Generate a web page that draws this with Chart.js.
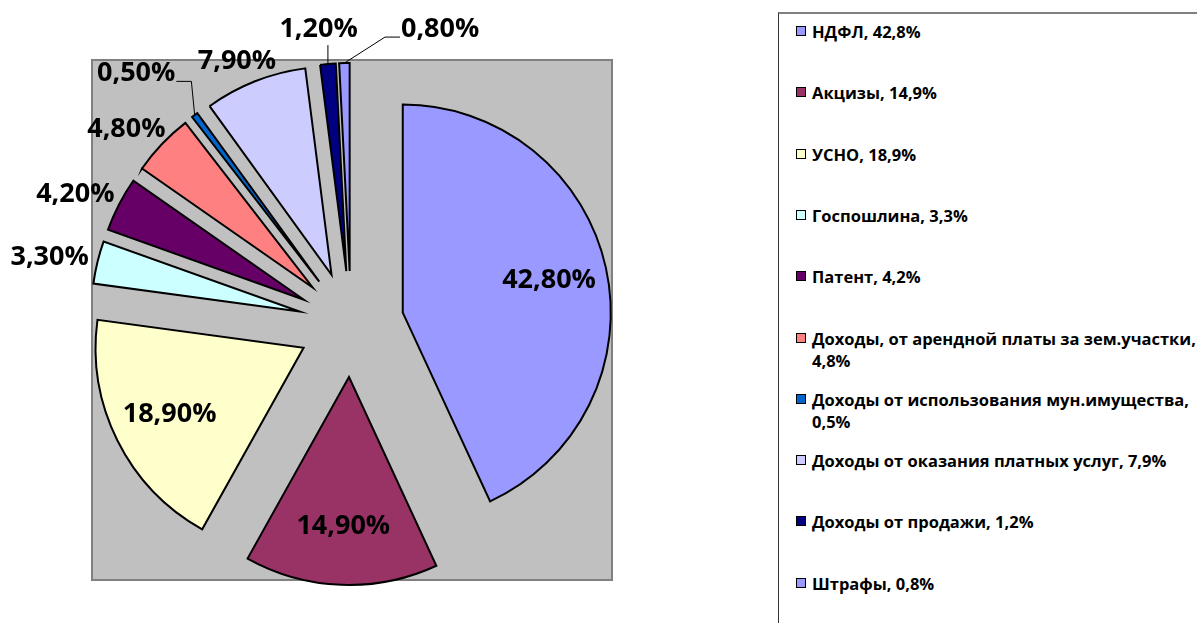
<!DOCTYPE html>
<html lang="ru">
<head>
<meta charset="utf-8">
<title>Структура доходов</title>
<script src="https://cdn.jsdelivr.net/npm/chart.js@4.4.0/dist/chart.umd.min.js"></script>
<style>
  html, body { margin: 0; padding: 0; background: #fff; }
  body { width: 1197px; height: 623px; position: relative; overflow: hidden; font-family: 'Open Sans', sans-serif; }
  #wrap { position: absolute; left: 0; top: 0; width: 702px; height: 623px; }
  #legenda { position: absolute; left: 778px; top: 12px; width: 440px; height: 630px;
             border-top: 2px solid #808080; border-left: 1px solid #333; }
  .item { position: absolute; left: 15px; width: 392px; padding-left: 18px;
          font-weight: bold; font-size: 16.5px; line-height: 22px; color: #000; }
  .item i { position: absolute; left: 2px; top: 5px; width: 8px; height: 8px; border: 1.5px solid #000; }
</style>
</head>
<body>
<div id="wrap"><canvas id="grafico"></canvas></div>
<div id="legenda"></div>
<script>
// доли доходов, %
const categories = [
  'НДФЛ',
  'Акцизы',
  'УСНО',
  'Госпошлина',
  'Патент',
  'Доходы, от арендной платы за зем.участки',
  'Доходы от использования мун.имущества',
  'Доходы от оказания платных услуг',
  'Доходы от продажи',
  'Штрафы'
];
const values = [42.8, 14.9, 18.9, 3.3, 4.2, 4.8, 0.5, 7.9, 1.2, 0.8];
const colors = ['#9999FF', '#993366', '#FFFFCC', '#CCFFFF', '#660066',
                '#FF8080', '#0066CC', '#CCCCFF', '#000080', '#9999FF'];

const explode = 53;        // вынос секторов, px
const nudge = { 6: [-29, -24], 8: [-5, -13], 9: [97, -12] }; // сдвиг подписей с выноской

const fmt = v => v.toFixed(2).replace('.', ',') + '%';

// легенда
const legenda = document.getElementById('legenda');
categories.forEach((nome, i) => {
  const div = document.createElement('div');
  div.className = 'item';
  div.style.top = (7 + i * 61.3) + 'px';
  div.innerHTML = '<i style="background:' + colors[i] + '"></i>' +
    nome + ', ' + values[i].toFixed(1).replace('.', ',') + '%';
  legenda.appendChild(div);
});

// серый фон области построения + разнесённые сектора
const setores = {
  id: 'setores',
  beforeDatasetDraw(chart, args) {
    const ctx = chart.ctx;
    const arcs = args.meta.data;
    const cx = arcs[0].x, cy = arcs[0].y;
    ctx.save();
    ctx.fillStyle = '#C0C0C0';
    ctx.strokeStyle = '#808080';
    ctx.lineWidth = 2;
    ctx.fillRect(cx - 259, cy - 264, 520, 520);
    ctx.strokeRect(cx - 259, cy - 264, 520, 520);
    ctx.restore();

    arcs.forEach(arc => {
      const mid = (arc.startAngle + arc.endAngle) / 2;
      ctx.save();
      ctx.translate(Math.cos(mid) * explode, Math.sin(mid) * explode);
      arc.draw(ctx);
      ctx.restore();
    });
    return false;
  }
};

// подписи данных
const etiquetas = {
  id: 'etiquetas',
  afterDatasetsDraw(chart) {
    const ctx = chart.ctx;
    const meta = chart.getDatasetMeta(0);
    ctx.save();
    ctx.font = 'bold 27px "Open Sans", sans-serif';
    ctx.fillStyle = '#000';
    ctx.strokeStyle = '#000';
    ctx.lineWidth = 1;
    ctx.textAlign = 'center';
    ctx.textBaseline = 'middle';
    meta.data.forEach((arc, i) => {
      const mid = (arc.startAngle + arc.endAngle) / 2;
      const dx = Math.cos(mid), dy = Math.sin(mid);
      const r = arc.outerRadius;
      const text = fmt(values[i]);
      const w = ctx.measureText(text).width, h = 24;
      let lx, ly;
      if (values[i] > 10) {
        lx = arc.x + dx * (explode + r * 0.72);
        ly = arc.y + dy * (explode + r * 0.72);
      } else {
        const d = r + explode + 10;
        lx = arc.x + dx * d + dx * w / 2;
        ly = arc.y + dy * d + dy * h / 2;
        const n = nudge[i];
        if (n) {
          lx += n[0];
          ly += n[1];
          const ox = arc.x + dx * (r + explode), oy = arc.y + dy * (r + explode);
          ctx.beginPath();
          ctx.moveTo(ox, oy);
          if (lx - w / 2 > ox) {
            ctx.lineTo(lx - w / 2 - 16, ly + 8);
            ctx.lineTo(lx - w / 2 - 1, ly + 8);
          } else if (lx + w / 2 < ox) {
            ctx.lineTo(lx + w / 2 + 16, ly + 8);
            ctx.lineTo(lx + w / 2 + 1, ly + 8);
          } else {
            ctx.lineTo(ox, ly + h / 2 + 4);
          }
          ctx.stroke();
        }
      }
      ctx.fillText(text, lx, ly);
    });
    ctx.restore();
  }
};

new Chart(document.getElementById('grafico'), {
  type: 'pie',
  data: {
    labels: categories,
    datasets: [{
      data: values,
      backgroundColor: colors,
      borderColor: '#000',
      borderWidth: 2,
      borderJoinStyle: 'miter',
      clip: false
    }]
  },
  options: {
    responsive: true,
    maintainAspectRatio: false,
    animation: false,
    events: [],
    radius: 208,
    layout: { padding: { top: 25 } },
    plugins: {
      legend: { display: false },
      tooltip: { enabled: false }
    }
  },
  plugins: [setores, etiquetas]
});
</script>
</body>
</html>
